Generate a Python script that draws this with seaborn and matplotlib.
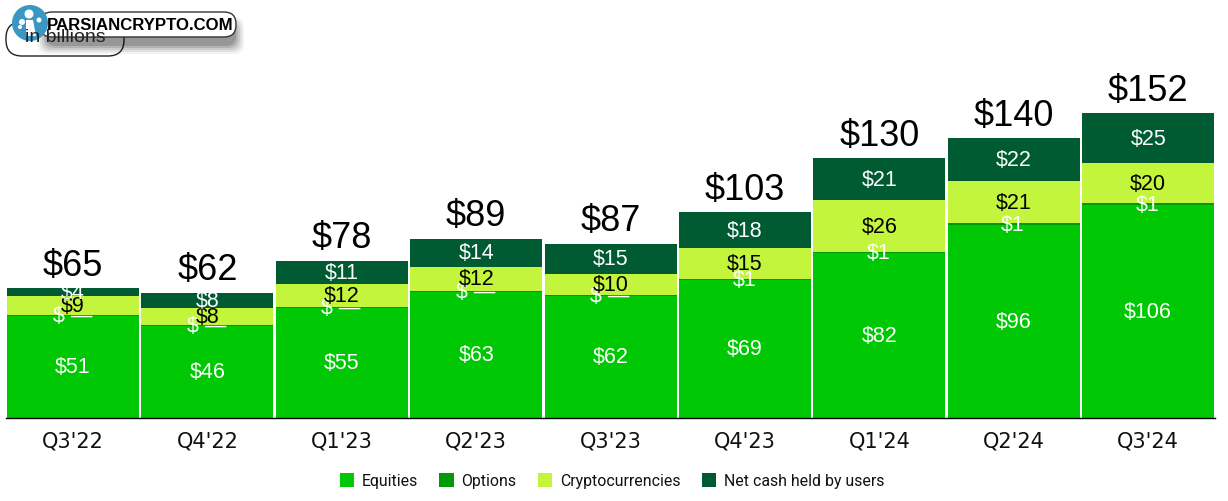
import numpy as np
import pandas as pd
import matplotlib
matplotlib.use("Agg")
import matplotlib.pyplot as plt
import seaborn as sns
from matplotlib.patches import Patch, FancyBboxPatch, Circle, Polygon

quarters = ["Q3'22", "Q4'22", "Q1'23", "Q2'23", "Q3'23", "Q4'23", "Q1'24", "Q2'24", "Q3'24"]
equities = [51, 46, 55, 63, 61, 69, 82, 96, 106]
options = [0.3, 0.3, 0.3, 0.3, 0.3, 0.5, 0.5, 1, 1]
crypto = [9.3, 8.6, 11.5, 12, 10.5, 15, 26, 21, 20]
net_cash = [4, 7.5, 11.5, 14, 15, 18, 21, 21.5, 25]

totals = ["$65", "$62", "$78", "$89", "$87", "$103", "$130", "$140", "$152"]
equities_labels = ["$51", "$46", "$55", "$63", "$62", "$69", "$82", "$96", "$106"]
options_labels = ["$ \u2014", "$ \u2014", "$ \u2014", "$ \u2014", "$ \u2014", "$1", "$1", "$1", "$1"]
crypto_labels = ["$9", "$8", "$12", "$12", "$10", "$15", "$26", "$21", "$20"]
cash_labels = ["$4", "$8", "$11", "$14", "$15", "$18", "$21", "$22", "$25"]

series_names = ["Equities", "Options", "Cryptocurrencies", "Net cash held by users"]
series_colors = ["#00C805", "#009A08", "#C3F53C", "#005A32"]

W, H = 1228, 501
sns.set_theme(style="white")
plt.rcParams["font.family"] = ["Liberation Sans", "DejaVu Sans"]

fig = plt.figure(figsize=(W / 100, H / 100), dpi=100)
ax = fig.add_axes([5.8 / W, (H - 418) / H, 1209.6 / W, 358 / H])

df = pd.DataFrame({"quarter": quarters, "Equities": equities, "Options": options,
                   "Cryptocurrencies": crypto, "Net cash held by users": net_cash})
stack = df[series_names].cumsum(axis=1)

# stacked bars: tallest cumulative first, the shorter ones painted on top
for name, color in reversed(list(zip(series_names, series_colors))):
    sns.barplot(data=stack.assign(quarter=quarters), x="quarter", y=name, color=color,
                saturation=1, width=0.982, ax=ax, order=quarters, linewidth=0)

ax.set_xlim(-0.5, 8.5)
ax.set_ylim(0, 358 / 2.0066)
ax.set_xlabel("")
ax.set_ylabel("")
ax.set_yticks([])
ax.tick_params(axis="x", length=0, pad=10)
for lab in ax.get_xticklabels():
    lab.set_fontsize(15)
    lab.set_fontfamily("DejaVu Sans")
    lab.set_color("#111111")
for side in ["top", "left", "right"]:
    ax.spines[side].set_visible(False)
ax.spines["bottom"].set_color("black")
ax.spines["bottom"].set_linewidth(1)

nudge = -0.5  # labels sit a touch under the segment centre
for i in range(len(quarters)):
    low = stack["Equities"][i]
    ax.text(i, low / 2 + nudge, equities_labels[i], color="white", fontsize=15.5, ha="center", va="center")
    ax.text(i - 0.005, low + options[i] / 2 + nudge, options_labels[i], color="white", fontsize=15.5, ha="center", va="center")
    ax.text(i, stack["Options"][i] + crypto[i] / 2 + nudge, crypto_labels[i], color="black", fontsize=15.5, ha="center", va="center")
    ax.text(i, stack["Cryptocurrencies"][i] + net_cash[i] / 2 + nudge, cash_labels[i], color="white", fontsize=15.5, ha="center", va="center")
    ax.text(i, stack["Net cash held by users"][i] + 2.2, totals[i], color="black", fontsize=26, ha="center", va="bottom")

handles = [Patch(facecolor=c, edgecolor="none", label=n) for n, c in zip(series_names, series_colors)]
fig.legend(handles=handles, loc="center", bbox_to_anchor=(612 / W, (H - 481) / H), ncol=4, frameon=False,
           prop={"family": "Roboto", "size": 11.4}, handlelength=0.9, handleheight=0.9,
           handletextpad=0.5, columnspacing=1.35, labelcolor="#111111")

# overlay in pixel coordinates for the pill badge and watermark
top = fig.add_axes([0, 0, 1, 1], zorder=5)
top.set_xlim(0, W)
top.set_ylim(H, 0)
top.axis("off")
top.patch.set_alpha(0)

top.add_patch(FancyBboxPatch((6, 22), 118, 34, boxstyle="round,pad=0,rounding_size=16", fc="white", ec="#222222", lw=1))
top.text(65, 37, "in billions", fontsize=14, ha="center", va="center", color="#222222")

# soft shadow under the watermark
for grow, alpha in zip([8, 6, 4, 2, 0], [0.05, 0.07, 0.09, 0.12, 0.15]):
    top.add_patch(FancyBboxPatch((46 - grow, 20 - grow + 5), 190 + 2 * grow, 21 + 2 * grow,
                                 boxstyle="round,pad=0,rounding_size=10", fc="black", ec="none", alpha=alpha))
top.add_patch(FancyBboxPatch((40, 12), 196, 25, boxstyle="round,pad=0,rounding_size=12", fc="white", ec="#333333", lw=1))
top.text(140.5, 25, "PARSIANCRYPTO.COM", fontsize=12.1, fontweight="bold", ha="center", va="center", color="black")

top.add_patch(Circle((30, 23), 18, fc="#3A97C4", ec="none"))
top.add_patch(Polygon([[26, 20], [33, 20], [36, 36], [26, 36]], fc="white", ec="none"))
for cx, cy, r in [(29, 14, 4.5), (39, 20, 2.5), (22, 22, 3), (20, 27, 2)]:
    top.add_patch(Circle((cx, cy), r, fc="white", ec="none"))

fig.savefig("out.png", dpi=100)
